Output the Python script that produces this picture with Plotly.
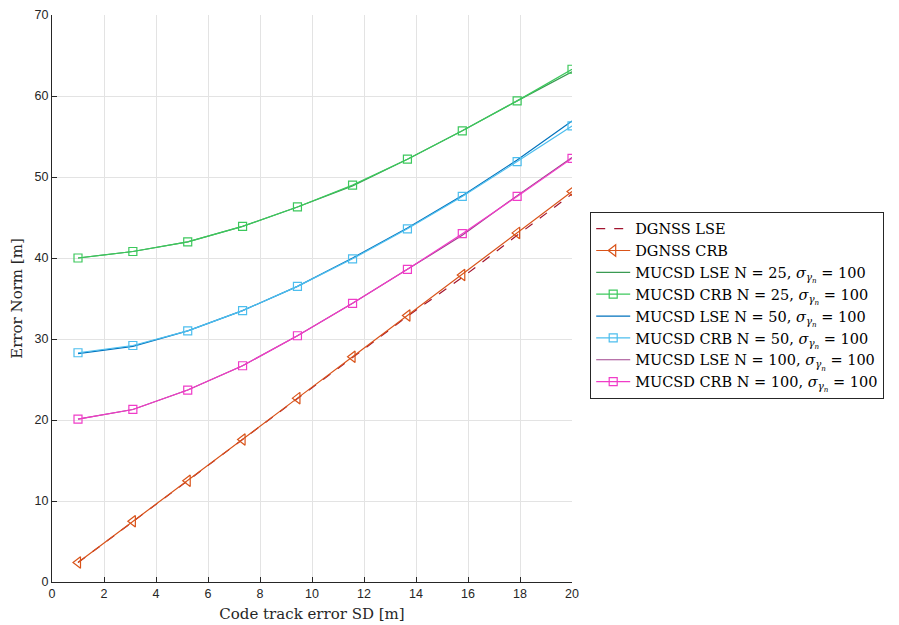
import plotly.graph_objects as go

x_vals = [1.0, 3.11, 5.22, 7.33, 9.44, 11.56, 13.67, 15.78, 17.89, 20.0]

dgnss_lse = [2.4, 7.4, 12.5, 17.6, 22.6, 27.7, 32.8, 37.6, 42.8, 47.9]
dgnss_crb = [2.4, 7.5, 12.5, 17.6, 22.7, 27.8, 32.9, 37.9, 43.1, 48.2]
lse_25 = [40.0, 40.8, 42.0, 43.9, 46.3, 48.9, 52.2, 55.7, 59.4, 63.0]
crb_25 = [40.0, 40.8, 42.0, 43.9, 46.3, 49.0, 52.2, 55.7, 59.4, 63.3]
lse_50 = [28.2, 29.1, 31.0, 33.5, 36.5, 40.0, 43.7, 47.7, 52.1, 56.9]
crb_50 = [28.3, 29.2, 31.0, 33.5, 36.5, 39.9, 43.6, 47.6, 51.9, 56.3]
lse_100 = [20.1, 21.3, 23.7, 26.7, 30.4, 34.4, 38.6, 42.8, 47.7, 52.4]
crb_100 = [20.1, 21.3, 23.7, 26.7, 30.4, 34.4, 38.6, 43.0, 47.6, 52.3]

x_ticks = [0, 2, 4, 6, 8, 10, 12, 14, 16, 18, 20]
y_ticks = [0, 10, 20, 30, 40, 50, 60, 70]

sig = "<i>σ</i><sub><i>γ</i><sub><i>n</i></sub></sub>"

series = [
    ("DGNSS LSE", dgnss_lse, "#A2142F", "dash", None),
    ("DGNSS CRB", dgnss_crb, "#D95319", "solid", "triangle-left-open"),
    (f"MUCSD LSE N = 25, {sig} = 100", lse_25, "#3a9a52", "solid", None),
    (f"MUCSD CRB N = 25, {sig} = 100", crb_25, "#3cc85c", "solid", "square-open"),
    (f"MUCSD LSE N = 50, {sig} = 100", lse_50, "#0072BD", "solid", None),
    (f"MUCSD CRB N = 50, {sig} = 100", crb_50, "#4DBEEE", "solid", "square-open"),
    (f"MUCSD LSE N = 100, {sig} = 100", lse_100, "#A0448E", "solid", None),
    (f"MUCSD CRB N = 100, {sig} = 100", crb_100, "#F03CC8", "solid", "square-open"),
]

fig = go.Figure()
for name, ys, col, dash, sym in series:
    if sym:
        fig.add_trace(go.Scatter(
            x=x_vals, y=ys, name=name, mode="lines+markers",
            line=dict(color=col, width=1.2, dash=dash),
            marker=dict(symbol=sym, size=10 if "triangle" in sym else 8,
                        color=col, line=dict(width=1.2, color=col)),
        ))
    else:
        fig.add_trace(go.Scatter(
            x=x_vals, y=ys, name=name, mode="lines",
            line=dict(color=col, width=1.2, dash=dash),
        ))

axis_common = dict(
    showgrid=True, gridcolor="#e3e3e3", gridwidth=1,
    showline=True, linecolor="#262626", linewidth=1,
    ticks="inside", ticklen=5, tickcolor="#262626",
    tickfont=dict(family="Liberation Sans, Arial, sans-serif", size=12.5, color="#262626"),
    zeroline=False, mirror=False, automargin=False,
    ticklabeloverflow="allow",
)

title_font = dict(family="DejaVu Serif, serif", size=15, color="#262626")

fig.update_layout(
    width=891, height=617,
    margin=dict(l=44, r=327, t=7, b=43, autoexpand=False),
    paper_bgcolor="white", plot_bgcolor="white",
    xaxis=dict(range=[0, 20], tickvals=x_ticks,
               title=dict(text="Code track error SD [m]", standoff=8, font=title_font),
               **axis_common),
    yaxis=dict(range=[0, 70], tickvals=y_ticks,
               title=dict(text="Error Norm [m]", standoff=8, font=title_font),
               **axis_common),
    legend=dict(x=1.035, y=0.653, xanchor="left", yanchor="top",
                bgcolor="white", bordercolor="#262626", borderwidth=1,
                font=dict(family="DejaVu Serif, serif", size=14.5, color="#000000"),
                tracegroupgap=0, itemwidth=34),
    showlegend=True,
)

fig.write_html("out.html")
